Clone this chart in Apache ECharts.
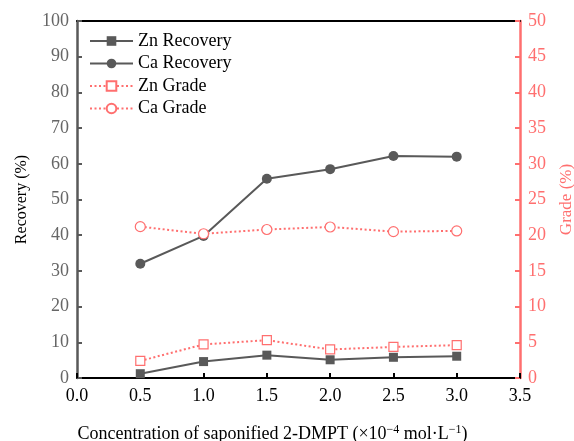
<!DOCTYPE html>
<html>
<head>
<meta charset="utf-8">
<script src="https://cdn.jsdelivr.net/npm/echarts@6/dist/echarts.min.js"></script>
<style>
html,body{margin:0;padding:0;background:#fff;}
#chart{width:574px;height:441px;}
</style>
</head>
<body>
<div id="chart"></div>
<script>
// Saponified 2-DMPT concentration (×10^-4 mol·L^-1)
const concentrations = [0.5, 1.0, 1.5, 2.0, 2.5, 3.0];
// Recovery (%) — left axis
const znRecovery = [1.2, 4.6, 6.4, 5.1, 5.8, 6.1];
const caRecovery = [32.0, 39.8, 55.8, 58.5, 62.2, 62.0];
// Grade (%) — right axis
const znGrade = [2.4, 4.7, 5.3, 4.0, 4.35, 4.6];
const caGrade = [21.2, 20.2, 20.8, 21.15, 20.5, 20.6];

const xTicks = ['0.0', '0.5', '1.0', '1.5', '2.0', '2.5', '3.0', '3.5'];

const GRAY = '#595959';
const RED = '#ff6f6f';
const FONT = 'Liberation Serif';

const pairs = vals => concentrations.map((c, i) => [c, vals[i]]);

const chart = echarts.init(document.getElementById('chart'));
chart.setOption({
  backgroundColor: '#fff',
  animation: false,
  textStyle: { fontFamily: FONT },
  grid: { left: 77, right: 54, top: 21, bottom: 63, outerBoundsMode: 'none', containLabel: false },
  legend: {
    left: 84, top: 27, orient: 'vertical', itemGap: 4.5,
    itemWidth: 43, itemHeight: 12,
    textStyle: { fontFamily: FONT, fontSize: 18, color: '#000' },
    data: ['Zn Recovery', 'Ca Recovery', 'Zn Grade', 'Ca Grade']
  },
  xAxis: [{
    type: 'value', min: 0, max: 3.5, interval: 0.5,
    name: '{t|Concentration of saponified 2-DMPT (×10}{s|−4}{t| mol·L}{s|−1}{t|)}',
    nameLocation: 'middle', nameGap: 46,
    nameTextStyle: {
      fontFamily: FONT, fontSize: 18, color: '#000',
      padding: [0, 52, 0, 0],
      rich: {
        t: { fontFamily: FONT, fontSize: 18, color: '#000' },
        s: { fontFamily: FONT, fontSize: 12, color: '#000', verticalAlign: 'top', padding: [0, 0, 8, 0] }
      }
    },
    axisLine: { onZero: false, lineStyle: { color: '#000', width: 2 } },
    axisTick: { inside: true, length: 5, lineStyle: { color: '#000', width: 2 } },
    axisLabel: { fontFamily: FONT, fontSize: 18, color: '#000', margin: 9,
      formatter: v => xTicks[Math.round(v / 0.5)] },
    splitLine: { show: false }
  }, {
    type: 'value', min: 0, max: 3.5, position: 'top',
    axisLine: { show: true, onZero: false, lineStyle: { color: '#000', width: 2 } },
    axisTick: { show: false }, axisLabel: { show: false }, splitLine: { show: false }
  }],
  yAxis: [{
    type: 'value', min: 0, max: 100, interval: 10, position: 'left',
    name: 'Recovery (%)', nameLocation: 'middle', nameGap: 47,
    nameTextStyle: { fontFamily: FONT, fontSize: 16, color: '#000' },
    axisLine: { show: true, onZero: false, lineStyle: { color: GRAY, width: 2.5 } },
    axisTick: { show: true, inside: true, length: 5, lineStyle: { color: GRAY, width: 2 } },
    axisLabel: { fontFamily: FONT, fontSize: 18, color: '#666', margin: 8 },
    splitLine: { show: false }
  }, {
    type: 'value', min: 0, max: 50, interval: 5, position: 'right',
    name: 'Grade (%)', nameLocation: 'middle', nameGap: 38,
    nameTextStyle: { fontFamily: FONT, fontSize: 17, color: RED },
    axisLine: { show: true, onZero: false, lineStyle: { color: RED, width: 2.5 } },
    axisTick: { show: true, inside: true, length: 5, lineStyle: { color: RED, width: 2 } },
    axisLabel: { fontFamily: FONT, fontSize: 18, color: RED, margin: 8 },
    splitLine: { show: false }
  }],
  series: [{
    name: 'Zn Recovery', type: 'line', yAxisIndex: 0,
    data: pairs(znRecovery), symbol: 'rect', symbolSize: 9,
    itemStyle: { color: GRAY }, lineStyle: { color: GRAY, width: 2 }
  }, {
    name: 'Ca Recovery', type: 'line', yAxisIndex: 0,
    data: pairs(caRecovery), symbol: 'circle', symbolSize: 10,
    itemStyle: { color: GRAY }, lineStyle: { color: GRAY, width: 2 }
  }, {
    name: 'Zn Grade', type: 'line', yAxisIndex: 1,
    data: pairs(znGrade), symbol: 'rect', symbolSize: 9,
    itemStyle: { color: '#fff', borderColor: RED, borderWidth: 1.2 },
    lineStyle: { color: RED, width: 2, type: [2, 2.5] }
  }, {
    name: 'Ca Grade', type: 'line', yAxisIndex: 1,
    data: pairs(caGrade), symbol: 'circle', symbolSize: 10,
    itemStyle: { color: '#fff', borderColor: RED, borderWidth: 1.2 },
    lineStyle: { color: RED, width: 2, type: [2, 2.5] }
  }]
});
</script>
</body>
</html>
